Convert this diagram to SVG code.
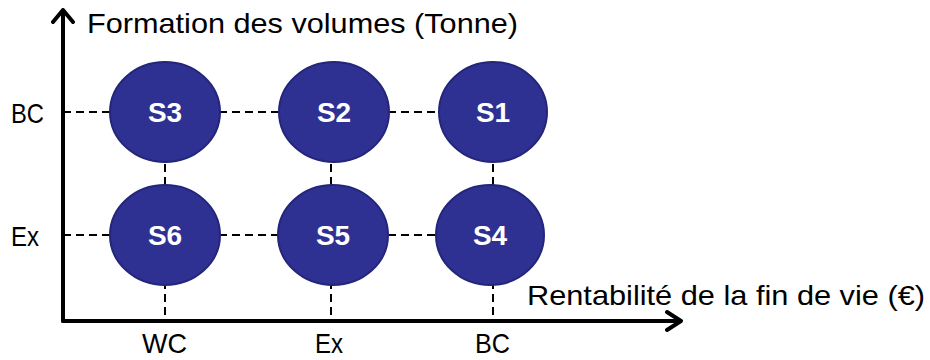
<svg xmlns="http://www.w3.org/2000/svg" width="930" height="360" viewBox="0 0 930 360">
<style>
.axis{stroke:#000;stroke-width:4;fill:none;stroke-linecap:round;stroke-linejoin:round}
.dash{stroke:#000;stroke-width:2;stroke-dasharray:8 5;fill:none}
.node ellipse{fill:#2e3192;stroke:#23267a;stroke-width:2}
.node text{fill:#fff;font-family:"Liberation Sans",Arial,sans-serif;font-weight:bold;font-size:28px;text-anchor:middle}
.lbl{fill:#000;font-family:"Liberation Sans",Arial,sans-serif;font-size:28px}
</style>
<rect width="930" height="360" fill="#fff"/>
<g id="connectors">
<line class="dash" x1="63" y1="112" x2="494" y2="112"/>
<line class="dash" x1="63" y1="235" x2="494" y2="235"/>
<line class="dash" x1="165" y1="112" x2="165" y2="321"/>
<line class="dash" x1="331" y1="112" x2="331" y2="321"/>
<line class="dash" x1="493" y1="112" x2="493" y2="321"/>
</g>
<g id="axes">
<path class="axis" d="M63 321 V10 M53 22 L63 10 L73 22"/>
<path class="axis" d="M63 321 H681 M667 312 L681 321 L667 330"/>
</g>
<g id="S3" class="node"><ellipse cx="165" cy="112" rx="55" ry="50"/><text x="165" y="122">S3</text></g>
<g id="S2" class="node"><ellipse cx="334" cy="112" rx="55" ry="50"/><text x="334" y="122">S2</text></g>
<g id="S1" class="node"><ellipse cx="493" cy="112" rx="54" ry="50"/><text x="493" y="122">S1</text></g>
<g id="S6" class="node"><ellipse cx="165" cy="235" rx="55" ry="50"/><text x="165" y="245">S6</text></g>
<g id="S5" class="node"><ellipse cx="333" cy="235" rx="55" ry="50"/><text x="333" y="245">S5</text></g>
<g id="S4" class="node"><ellipse cx="490" cy="235" rx="54" ry="50"/><text x="490" y="245">S4</text></g>
<g id="labels">
<text class="lbl" x="87" y="33" textLength="431" lengthAdjust="spacingAndGlyphs">Formation des volumes (Tonne)</text>
<text class="lbl" x="527" y="305" textLength="398" lengthAdjust="spacingAndGlyphs">Rentabilité de la fin de vie (€)</text>
<text class="lbl" x="11" y="123" textLength="33" lengthAdjust="spacingAndGlyphs">BC</text>
<text class="lbl" x="11" y="246" textLength="28" lengthAdjust="spacingAndGlyphs">Ex</text>
<text class="lbl" x="142" y="353" textLength="45" lengthAdjust="spacingAndGlyphs">WC</text>
<text class="lbl" x="315" y="353" textLength="28" lengthAdjust="spacingAndGlyphs">Ex</text>
<text class="lbl" x="475" y="353" textLength="35" lengthAdjust="spacingAndGlyphs">BC</text>
</g>
</svg>
